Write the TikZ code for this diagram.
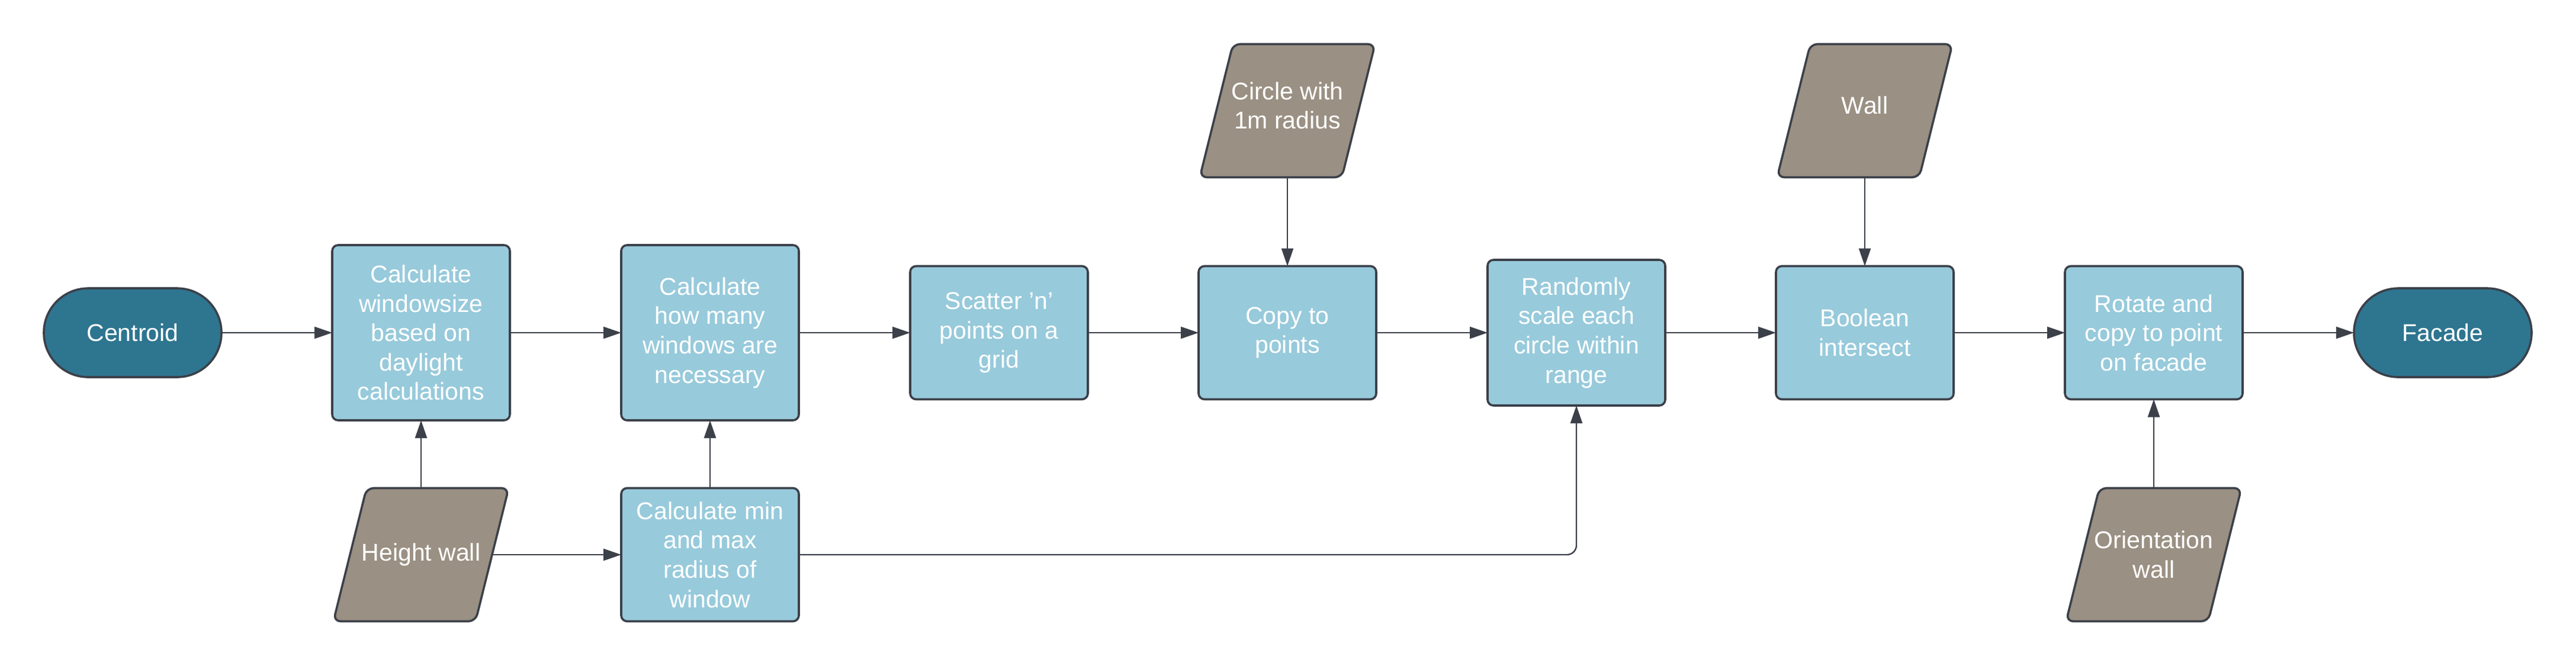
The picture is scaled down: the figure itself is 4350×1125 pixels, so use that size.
\documentclass[tikz,border=0pt]{standalone}
\usepackage{fontspec}
\setmainfont{Liberation Sans}
\usetikzlibrary{arrows.meta,shapes.misc,backgrounds}
\definecolor{boxblue}{HTML}{97CADB}
\definecolor{teal}{HTML}{2E7590}
\definecolor{inputgrey}{HTML}{9A9083}
\definecolor{edge}{HTML}{3B4049}
\tikzset{
  lbl/.style={text=white, align=center, font=\fontsize{10.25pt}{12.4pt}\selectfont, inner sep=0pt, outer sep=0pt},
  procbox/.style={lbl, rectangle, rounded corners=2.5pt, draw=edge, line width=0.9pt, fill=boxblue, minimum width=75pt},
  termbox/.style={lbl, rounded rectangle, draw=edge, line width=0.9pt, fill=teal, minimum width=75pt, minimum height=37.5pt},
  databox/.style={lbl, rectangle, minimum width=74pt, minimum height=56.25pt},
  paraframe/.style={rounded corners=3pt, draw=edge, line width=0.9pt, fill=inputgrey},
  raised/.style={text depth=4.5pt},
  flow/.style={draw=edge, line width=0.6pt, -{Triangle[length=7.5pt,width=5pt]}}
}
\begin{document}
\begin{tikzpicture}[x=0.25pt,y=-0.25pt]
\useasboundingbox (0,0) rectangle (4350,1125);
\node[termbox] (cen) at (224,562) {Centroid};
\node[procbox, minimum height=74pt] (b1) at (711,562) {Calculate\\windowsize\\based on\\daylight\\calculations};
\node[procbox, minimum height=74pt] (b2) at (1199,562) {Calculate\\how many\\windows are\\necessary};
\node[databox] (hw) at (711,937) {Height wall};
\node[procbox, minimum height=56.25pt] (cm) at (1199,937) {Calculate min\\and max\\radius of\\window};
\node[procbox, minimum height=56.25pt] (sc) at (1687,562) {Scatter {\char39}n{\char39}\\points on a\\grid};
\node[procbox, minimum height=56.25pt] (cp) at (2174,562) {Copy to\\points};
\node[databox, raised] (ci) at (2174,187) {Circle with\\1m radius};
\node[procbox, minimum height=61.5pt] (rs) at (2662,562) {Randomly\\scale each\\circle within\\range};
\node[databox, raised] (wa) at (3149,187) {Wall};
\node[procbox, minimum height=56.25pt] (bo) at (3149,562) {Boolean\\intersect};
\node[procbox, minimum height=56.25pt] (ro) at (3637,562) {Rotate and\\copy to point\\on facade};
\node[databox] (ow) at (3637,937) {Orientation\\wall};
\node[termbox] (fa) at (4125,562) {Facade};
\begin{scope}[on background layer]
  \foreach \n in {hw,ci,wa,ow}
    \draw[paraframe] ([xshift=14pt]\n.north west) -- (\n.north east)
      -- ([xshift=-14pt]\n.south east) -- (\n.south west) -- cycle;
\end{scope}
\draw[flow] (cen) -- (b1);
\draw[flow] (b1) -- (b2);
\draw[flow] (b2) -- (sc);
\draw[flow] (sc) -- (cp);
\draw[flow] (cp) -- (rs);
\draw[flow] (rs) -- (bo);
\draw[flow] (bo) -- (ro);
\draw[flow] (ro) -- (fa);
\draw[flow] (ci.south) -- (cp.north);
\draw[flow] (wa.south) -- (bo.north);
\draw[flow] (hw.north) -- (b1.south);
\draw[flow] (cm) -- (b2);
\draw[flow] ([xshift=-7pt]hw.east) -- (cm.west);
\draw[flow] (ow.north) -- (ro.south);
\draw[flow, rounded corners=4pt] (cm.east) -| (rs.south);
\end{tikzpicture}
\end{document}
